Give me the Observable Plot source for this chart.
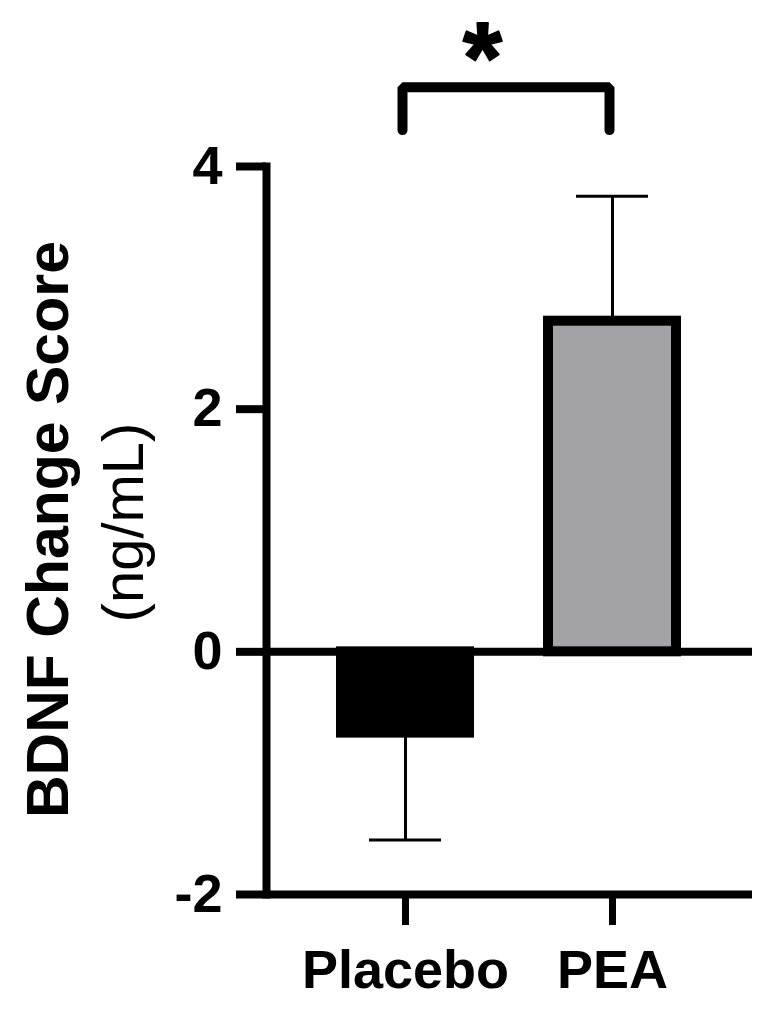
<!DOCTYPE html>
<html><head><meta charset="utf-8">
<script src="https://cdn.jsdelivr.net/npm/d3@7"></script>
<script src="https://cdn.jsdelivr.net/npm/@observablehq/plot@0.6"></script>
<style>body{margin:0;background:#fff}</style>
</head><body><div id="chart"></div>
<script>
const groups = ["Placebo", "PEA"];
const means = [-0.67, 2.725];
const sems = [0.88, 1.03];
const yTicks = [-2, 0, 2, 4];
const yLabel = "BDNF Change Score";
const yUnit = "(ng/mL)";
const sigLabel = "*";
const sigY = 4.654;
const sigLegY = 4.30;

const data = groups.map((g, i) => ({group: g, mean: means[i], sem: sems[i], end: means[i] + Math.sign(means[i]) * sems[i]}));
const bracket = [
  {g: groups[0], y: sigLegY}, {g: groups[0], y: sigY},
  {g: groups[1], y: sigY}, {g: groups[1], y: sigLegY}
];

const font = "'Liberation Sans', Arial, Helvetica, sans-serif";
const plot = Plot.plot({
  width: 775, height: 1010,
  marginTop: 166, marginBottom: 116, marginLeft: 266, marginRight: 23,
  style: {fontFamily: font, fontWeight: "bold", fontSize: "54px", background: "white", color: "black"},
  x: {domain: groups, range: [261.5, 756.5], padding: 0.38, label: null},
  y: {domain: [-2, 4], label: null},
  color: {domain: groups, range: ["#000000", "#a3a2a7"]},
  marks: [
    Plot.ruleX(data, {x: "group", y1: "mean", y2: "end", strokeWidth: 3, stroke: "black"}),
    Plot.tickY(data, {x: "group", y: "end", strokeWidth: 3, insetLeft: 28, insetRight: 28, stroke: "black"}),
    Plot.barY(data, {x: "group", y: "mean", fill: "group", stroke: "black", strokeWidth: 10}),
    Plot.ruleY([0], {strokeWidth: 8, stroke: "black"}),
    Plot.ruleY([-2], {strokeWidth: 8, stroke: "black"}),
    Plot.frame({anchor: "left", strokeWidth: 8, stroke: "black"}),
    Plot.axisY({ticks: yTicks, tickSize: 30, tickPadding: 14, strokeWidth: 8, tickFormat: d => String(d), fontSize: 54, fontWeight: "bold", label: null}),
    Plot.axisX({tickSize: 31, tickPadding: 24, strokeWidth: 7, fontSize: 54, fontWeight: "bold", label: null}),
    Plot.line(bracket, {x: "g", y: "y", dx: -3, strokeWidth: 10, strokeLinecap: "round", strokeLinejoin: "miter", stroke: "black"}),
    Plot.text([sigLabel], {text: d => d, x: () => groups[0], y: () => sigY, dx: 77, dy: 5, fontSize: 100, fontWeight: "bold", stroke: "black", strokeWidth: 2, fill: "black", lineAnchor: "bottom"}),
    Plot.text([yLabel], {text: d => d, frameAnchor: "left", textAnchor: "middle", rotate: -90, dx: -199, dy: -1, lineAnchor: "bottom", fontSize: 59, fontWeight: "bold"}),
    Plot.text([yUnit], {text: d => d, frameAnchor: "left", textAnchor: "middle", rotate: -90, dx: -124, dy: -8, lineAnchor: "bottom", fontSize: 58, fontWeight: "normal"})
  ]
});
document.getElementById("chart").appendChild(plot);
</script>
</body></html>
